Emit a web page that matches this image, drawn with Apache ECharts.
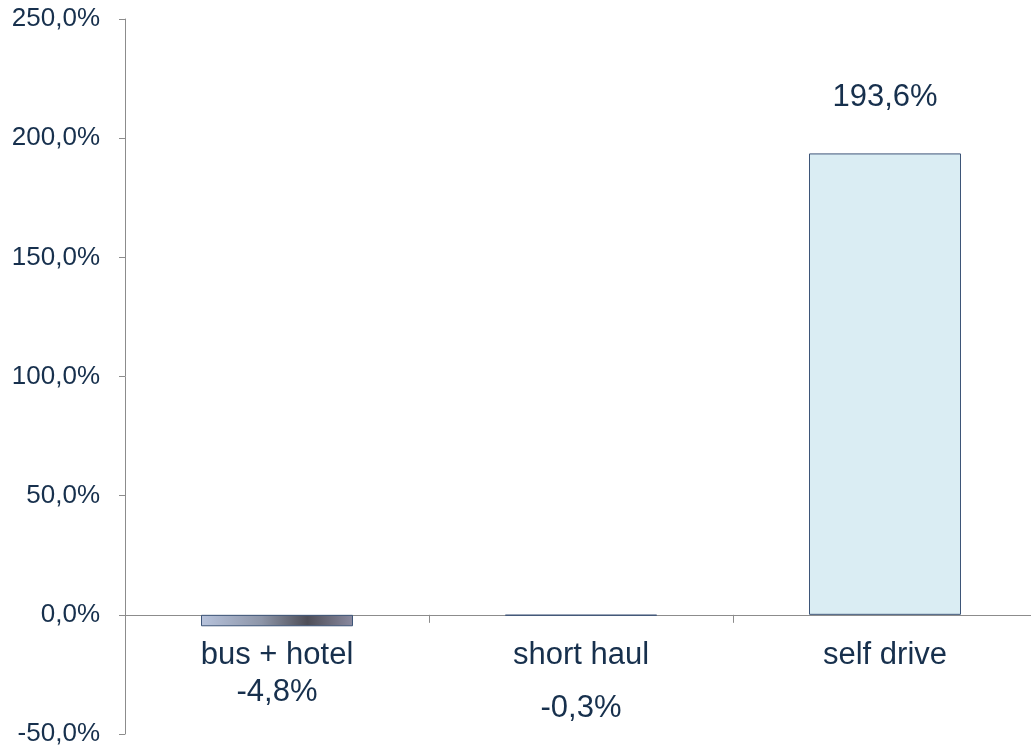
<!DOCTYPE html>
<html>
<head>
<meta charset="utf-8">
<script src="https://cdn.jsdelivr.net/npm/echarts@6/dist/echarts.min.js"></script>
<style>
  html, body {margin: 0; padding: 0; background: #fff;}
  #chart {width: 1031px; height: 746px;}
</style>
</head>
<body>
<div id="chart"></div>
<script>
// chart data
const categories = ['bus + hotel', 'short haul', 'self drive'];
const values = [-4.8, -0.3, 193.6];
const yTicks = [-50, 0, 50, 100, 150, 200, 250];

const textColor = '#17304d';
const fmt = v => v.toFixed(1).replace('.', ',') + '%';

// label placement per bar (these follow the original slide's odd offsets)
const labelCfg = [
    {position: 'bottom', distance: 51},
    {position: 'bottom', distance: 77},
    {position: 'top', distance: 40}
];
const barFill = [
    new echarts.graphic.LinearGradient(0, 0, 1, 0, [
        {offset: 0, color: '#b7c3dc'},
        {offset: 0.4, color: '#8d95a8'},
        {offset: 0.7, color: '#4e4e58'},
        {offset: 1, color: '#8a8aa0'}
    ]),
    '#6c7f9e',
    '#daedf3'
];

const chart = echarts.init(document.getElementById('chart'));
chart.setOption({
    animation: false,
    grid: {left: 125, right: -6, top: 19, bottom: 12, outerBoundsMode: 'none', containLabel: false},
    xAxis: {
        type: 'category',
        data: categories,
        axisLine: {onZero: true, lineStyle: {color: '#8c8c8c', width: 1}},
        axisTick: {show: true, length: 8, lineStyle: {color: '#8c8c8c'}},
        // labels sit at the grid bottom, pull them up under the zero line
        axisLabel: {color: textColor, fontSize: 31, fontFamily: 'Liberation Sans', margin: -94}
    },
    yAxis: {
        type: 'value',
        min: yTicks[0],
        max: yTicks[yTicks.length - 1],
        interval: 50,
        splitLine: {show: false},
        axisLine: {show: true, lineStyle: {color: '#8c8c8c', width: 1}},
        axisTick: {show: true, length: 6, lineStyle: {color: '#8c8c8c'}},
        axisLabel: {
            color: textColor, fontSize: 26, fontFamily: 'Liberation Sans', margin: 25,
            formatter: v => fmt(v)
        }
    },
    series: [{
        type: 'bar',
        barWidth: '50%',
        data: values.map((v, i) => ({
            value: v,
            itemStyle: {color: barFill[i], borderColor: '#3d5578', borderWidth: 1},
            label: {
                show: true,
                position: labelCfg[i].position,
                distance: labelCfg[i].distance,
                color: textColor,
                fontSize: 31,
                fontFamily: 'Liberation Sans',
                formatter: p => fmt(p.value)
            }
        }))
    }]
});
</script>
</body>
</html>
